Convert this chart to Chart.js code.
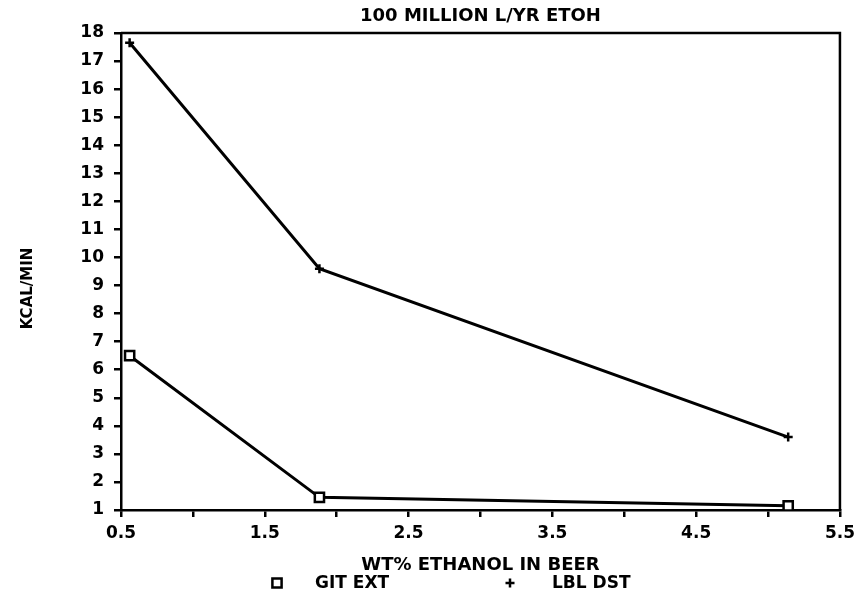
<!DOCTYPE html>
<html>
<head>
<meta charset="utf-8">
<script src="https://cdn.jsdelivr.net/npm/chart.js@4/dist/chart.umd.min.js"></script>
<style>
  html, body { margin: 0; padding: 0; background: #fff; }
</style>
</head>
<body>
<canvas id="ethChart" width="861" height="594"></canvas>
<script>
// wt% ethanol in beer (x) against energy use, kcal/min
const beerWt = [0.56, 1.88, 5.14];
const gitExt = [6.5, 1.45, 1.15];
const lblDst = [17.65, 9.6, 3.6];
const seriesNames = ['GIT EXT', 'LBL DST'];
const yTitle = 'KCAL/MIN';

const ink = '#000';
const plotFont = 'DejaVu Sans';

const toPoints = (xs, ys) => xs.map((x, i) => ({ x: x, y: ys[i] }));

// closes the box on top and right
const frameBox = {
    id: 'frameBox',
    afterDatasetsDraw(chart) {
        const { ctx, chartArea: a } = chart;
        ctx.save();
        ctx.strokeStyle = ink;
        ctx.lineWidth = 2.5;
        ctx.beginPath();
        ctx.moveTo(a.left, a.top);
        ctx.lineTo(a.right, a.top);
        ctx.lineTo(a.right, a.bottom);
        ctx.stroke();
        ctx.restore();
    }
};

// vertical y title, sits a little below the middle of the axis
const sideTitle = {
    id: 'sideTitle',
    afterDraw(chart) {
        const { ctx, chartArea: a } = chart;
        ctx.save();
        ctx.translate(28, (a.top + a.bottom) / 2 + 17);
        ctx.rotate(-Math.PI / 2);
        ctx.font = 'bold 15px ' + plotFont;
        ctx.fillStyle = ink;
        ctx.textAlign = 'center';
        ctx.textBaseline = 'middle';
        ctx.fillText(yTitle, 0, 0);
        ctx.restore();
    }
};

// key line under the axis title
const bottomKey = {
    id: 'bottomKey',
    afterDraw(chart) {
        const { ctx } = chart;
        const y = chart.chartArea.bottom + 73;
        const slots = [[277, 315], [510, 552]];
        ctx.save();
        ctx.font = 'bold 17px ' + plotFont;
        ctx.textBaseline = 'middle';
        chart.data.datasets.forEach((ds, i) => {
            const [mx, tx] = slots[i];
            ctx.lineWidth = ds.pointBorderWidth;
            ctx.strokeStyle = ds.pointBorderColor;
            ctx.fillStyle = ds.pointBackgroundColor;
            Chart.helpers.drawPoint(ctx, {
                pointStyle: ds.pointStyle,
                radius: ds.pointRadius,
                borderWidth: ds.pointBorderWidth,
                rotation: 0
            }, mx, y);
            ctx.fillStyle = ink;
            ctx.fillText(ds.label, tx, y + 1);
        });
        ctx.restore();
    }
};

new Chart(document.getElementById('ethChart'), {
    type: 'line',
    data: {
        datasets: [{
            label: seriesNames[0],
            data: toPoints(beerWt, gitExt),
            borderColor: ink,
            borderWidth: 3,
            tension: 0,
            pointStyle: 'rect',
            pointRadius: 6.5,
            pointBorderWidth: 2.5,
            pointBackgroundColor: '#fff',
            pointBorderColor: ink
        }, {
            label: seriesNames[1],
            data: toPoints(beerWt, lblDst),
            borderColor: ink,
            borderWidth: 3,
            tension: 0,
            pointStyle: 'cross',
            pointRadius: 4.5,
            pointBorderWidth: 2.5,
            pointBackgroundColor: ink,
            pointBorderColor: ink
        }]
    },
    options: {
        responsive: false,
        animation: false,
        layout: { padding: { top: 0, right: 19, bottom: 0, left: 0 } },
        scales: {
            x: {
                type: 'linear',
                min: 0.5,
                max: 5.5,
                afterFit(scale) { scale.height = 84; },
                border: { display: true, color: ink, width: 2.5 },
                grid: { drawOnChartArea: false, drawTicks: true, tickLength: 7, color: ink, lineWidth: 2.5 },
                ticks: {
                    stepSize: 0.5,
                    autoSkip: false,
                    maxRotation: 0,
                    padding: 6,
                    color: ink,
                    font: { family: plotFont, size: 17, weight: 'bold' },
                    callback: v => (Math.round(v * 2) % 2 === 1 ? v.toFixed(1) : '')
                },
                title: {
                    display: true,
                    text: 'WT% ETHANOL IN BEER',
                    color: ink,
                    font: { family: plotFont, size: 18, weight: 'bold' },
                    padding: { top: 0, bottom: 18 }
                }
            },
            y: {
                min: 1,
                max: 18,
                afterFit(scale) { scale.width = 121; },
                border: { display: true, color: ink, width: 2.5 },
                grid: { drawOnChartArea: false, drawTicks: true, tickLength: 7, color: ink, lineWidth: 2.5 },
                ticks: {
                    stepSize: 1,
                    padding: 10,
                    color: ink,
                    font: { family: plotFont, size: 17, weight: 'bold' }
                }
            }
        },
        plugins: {
            legend: { display: false },
            tooltip: { enabled: false },
            title: {
                display: true,
                fullSize: false,
                text: '100 MILLION L/YR ETOH',
                color: ink,
                font: { family: plotFont, size: 18, weight: 'bold' },
                padding: { top: 6, bottom: 5.4 }
            }
        }
    },
    plugins: [frameBox, sideTitle, bottomKey]
});
</script>
</body>
</html>
